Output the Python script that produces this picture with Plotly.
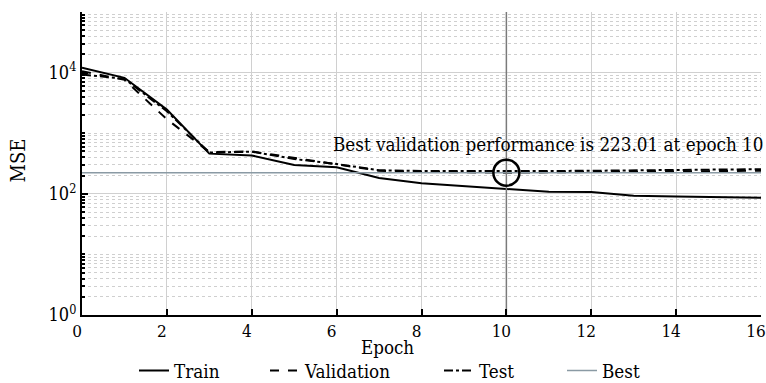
import math
import plotly.graph_objects as go

epochs = list(range(17))
train = [12000, 8200, 2450, 460, 430, 300, 275, 182, 150, 135, 121, 108, 107, 93, 90, 88, 86]
validation = [10500, 7600, 1700, 490, 500, 390, 305, 240, 230, 226, 223.01, 226, 228, 230, 233, 236, 240]
test = [9300, 7900, 2300, 480, 495, 375, 310, 245, 238, 236, 235, 238, 240, 243, 246, 250, 255]
best_epoch = 10
best_value = 223.01

y_tick_vals = [1, 100, 10000]
y_tick_text = ["10<sup>0</sup>", "10<sup>2</sup>", "10<sup>4</sup>"]
x_tick_vals = list(range(0, 17, 2))

FONT = "DejaVu Serif Condensed, DejaVu Serif"

minor_vals = []
for k in range(0, 5):
    for m in range(1, 10):
        v = m * 10 ** k
        if v not in y_tick_vals:
            minor_vals.append(v)

legend_x = [134, 265, 439, 562]

fig = go.Figure()
fig.add_trace(go.Scatter(x=epochs, y=train, mode="lines", name="Train", legend="legend",
                         line=dict(color="black", width=2)))
fig.add_trace(go.Scatter(x=epochs, y=validation, mode="lines", name="Validation", legend="legend2",
                         line=dict(color="black", width=2, dash="dash")))
fig.add_trace(go.Scatter(x=epochs, y=test, mode="lines", name="Test", legend="legend3",
                         line=dict(color="black", width=2, dash="dashdot")))
fig.add_trace(go.Scatter(x=[0, 16], y=[best_value, best_value], mode="lines", name="Best",
                         legend="legend4", line=dict(color="#8a9aa4", width=1.5)))
fig.add_trace(go.Scatter(x=[best_epoch, best_epoch], y=[1, 100000], mode="lines",
                         showlegend=False, line=dict(color="#7a7a7a", width=1.5)))
fig.add_trace(go.Scatter(x=[best_epoch], y=[best_value], mode="markers", showlegend=False,
                         marker=dict(symbol="circle-open", size=26, color="black",
                                     line=dict(color="black", width=2.5))))

fig.add_annotation(x=16, y=math.log10(best_value), xref="x", yref="y",
                   text="Best validation performance is 223.01 at epoch 10",
                   showarrow=False, xanchor="right", yanchor="middle", yshift=28, xshift=4,
                   font=dict(family=FONT, size=18.7, color="black"))
fig.add_annotation(x=7.2, y=0, xref="x", yref="paper", text="Epoch", showarrow=False,
                   xanchor="center", yanchor="middle", yshift=-32,
                   font=dict(family=FONT, size=18.6, color="black"))
fig.add_annotation(x=0, y=0.51, xref="paper", yref="paper", text="MSE", showarrow=False,
                   textangle=-90, xanchor="center", yanchor="middle", xshift=-64,
                   font=dict(family=FONT, size=20, color="black"))

fig.update_xaxes(range=[0, 16], tickvals=x_tick_vals, ticks="inside", ticklen=6,
                 tickwidth=1.5, tickcolor="black", showline=True, linecolor="black",
                 linewidth=2, showgrid=True, gridcolor="#d0d0d0", gridwidth=1,
                 zeroline=False, ticklabeloverflow="allow", automargin=False,
                 ticklabelshift=-5,
                 tickfont=dict(family=FONT, size=17, color="black"))
fig.update_yaxes(type="log", range=[0, 5], tickmode="array", tickvals=y_tick_vals,
                 ticktext=y_tick_text, ticks="inside", ticklen=6, tickwidth=1.5,
                 tickcolor="black", showline=True, linecolor="black", linewidth=2,
                 showgrid=True, gridcolor="#d0d0d0", gridwidth=1, zeroline=False,
                 automargin=False,
                 tickfont=dict(family=FONT, size=18, color="black"),
                 minor=dict(tickmode="array", tickvals=minor_vals, ticks="inside",
                            ticklen=3, tickcolor="black", showgrid=True,
                            gridcolor="#cfcfcf", griddash="dot", gridwidth=1))

legend_common = dict(orientation="h", xref="container", yref="container",
                     xanchor="left", y=0.032, yanchor="middle",
                     font=dict(family=FONT, size=18.7, color="black"),
                     bgcolor="rgba(0,0,0,0)")
fig.update_layout(width=766, height=383, margin=dict(l=82, r=5, t=12, b=68),
                  plot_bgcolor="white", paper_bgcolor="white",
                  font=dict(family=FONT, size=18, color="black"),
                  showlegend=True,
                  legend=dict(x=legend_x[0] / 766, **legend_common),
                  legend2=dict(x=legend_x[1] / 766, **legend_common),
                  legend3=dict(x=legend_x[2] / 766, **legend_common),
                  legend4=dict(x=legend_x[3] / 766, **legend_common))

fig.write_html("out.html")
